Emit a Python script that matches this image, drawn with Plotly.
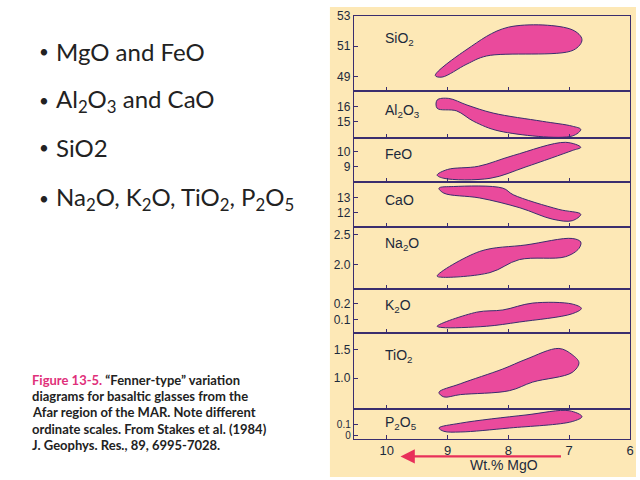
import plotly.graph_objects as go

# ---------------- data ----------------
oxides = ["SiO2", "Al2O3", "FeO", "CaO", "Na2O", "K2O", "TiO2", "P2O5"]
oxide_labels = ["SiO<sub>2</sub>", "Al<sub>2</sub>O<sub>3</sub>", "FeO", "CaO",
                "Na<sub>2</sub>O", "K<sub>2</sub>O", "TiO<sub>2</sub>", "P<sub>2</sub>O<sub>5</sub>"]

# field outlines (Wt.% MgO, Wt.% oxide)
sio2_mgo = [9.20, 8.68, 8.00, 6.95, 6.79, 6.93, 8.36, 8.68, 9.09, 9.20]
sio2_val = [49.06, 50.79, 52.25, 52.08, 51.43, 50.74, 50.35, 49.82, 48.96, 49.06]

al2o3_mgo = [9.17, 8.98, 8.68, 8.25, 7.44, 6.95, 6.81, 6.95, 8.14, 8.57, 8.85, 9.17, 9.17]
al2o3_val = [16.47, 16.58, 16.13, 15.58, 15.02, 14.69, 14.47, 14.02, 14.35, 15.02, 15.73, 15.91, 16.47]

feo_mgo = [9.17, 9.00, 8.49, 7.92, 7.06, 6.81, 6.95, 7.71, 8.30, 9.06, 9.17]
feo_val = [8.42, 8.80, 9.02, 9.75, 10.65, 10.31, 10.09, 8.98, 8.20, 8.20, 8.42]

cao_mgo = [9.14, 8.90, 8.09, 7.92, 7.17, 6.81, 6.95, 7.27, 7.81, 8.47, 9.06, 9.14]
cao_val = [13.67, 13.78, 13.67, 13.22, 12.22, 11.89, 11.45, 11.55, 12.33, 13.00, 13.33, 13.67]

na2o_mgo = [9.17, 8.47, 7.71, 6.95, 6.81, 6.84, 7.06, 7.82, 8.30, 9.09, 9.17]
na2o_val = [1.80, 2.22, 2.33, 2.44, 2.38, 2.27, 2.13, 2.08, 1.86, 1.78, 1.80]

k2o_mgo = [9.17, 8.52, 8.09, 7.60, 6.95, 6.80, 6.95, 7.82, 8.36, 9.09, 9.17]
k2o_val = [0.056, 0.146, 0.160, 0.204, 0.198, 0.170, 0.136, 0.083, 0.056, 0.048, 0.056]

tio2_mgo = [9.14, 8.79, 8.09, 7.71, 7.17, 6.95, 6.84, 6.95, 7.60, 7.98, 8.79, 9.06, 9.14]
tio2_val = [0.75, 0.90, 1.16, 1.33, 1.52, 1.41, 1.27, 1.10, 0.93, 0.78, 0.71, 0.67, 0.75]

p2o5_mgo = [9.14, 8.79, 7.71, 7.00, 6.79, 6.95, 7.98, 8.79, 9.06, 9.14]
p2o5_val = [0.067, 0.108, 0.178, 0.214, 0.164, 0.122, 0.067, 0.033, 0.039, 0.067]

fields_mgo = [sio2_mgo, al2o3_mgo, feo_mgo, cao_mgo, na2o_mgo, k2o_mgo, tio2_mgo, p2o5_mgo]
fields_val = [sio2_val, al2o3_val, feo_val, cao_val, na2o_val, k2o_val, tio2_val, p2o5_val]

y_ranges = [[48.03, 53.0], [13.87, 17.07], [7.93, 10.93], [11.0, 14.07],
            [1.58, 2.63], [0.0125, 0.294], [0.45, 1.79], [-0.025, 0.225]]
y_tickvals = [[49, 51, 53], [15, 16], [9, 10], [12, 13], [2.0, 2.5], [0.1, 0.2], [1.0, 1.5], [0, 0.1]]
y_ticktext = [["49", "51", "53"], ["15", "16"], ["9", "10"], ["12", "13"],
              ["2.0", "2.5"], ["0.1", "0.2"], ["1.0", "1.5"], ["0", "0.1"]]
x_tickvals = [10, 9, 8, 7, 6]
x_ticktext = ["10", "9", "8", "7", "6"]

bullets = ["MgO and FeO", "Al<sub>2</sub>O<sub>3</sub> and CaO", "SiO2",
           "Na<sub>2</sub>O, K<sub>2</sub>O, TiO<sub>2</sub>, P<sub>2</sub>O<sub>5</sub>"]
caption = ["<span style='color:#e0307a'>Figure 13-5.</span> \u201cFenner-type\u201d variation",
           "diagrams for basaltic glasses from the",
           "Afar region of the MAR. Note different",
           "ordinate scales. From Stakes et al. (1984)",
           "J. Geophys. Res., 89, 6995-7028."]

# ---------------- layout helpers ----------------
W, H = 640, 480
TEAL = "#168ea0"
PINK = "#ea4a9c"
EDGE = "#3a2d6e"
DARK = "#1c2a3c"
CREAM = "#fde8b6"

panel_px = [9, 86, 134, 179, 225, 288, 333, 411, 441]
x_dom = [356 / W, 634 / W]

fig = go.Figure()
layout = dict(width=W, height=H, margin=dict(l=0, r=0, t=0, b=0),
              paper_bgcolor="white", plot_bgcolor=TEAL, showlegend=False)

for i in range(8):
    n = i + 1
    xs = "x" if n == 1 else f"x{n}"
    ys = "y" if n == 1 else f"y{n}"
    fig.add_trace(go.Scatter(x=fields_mgo[i], y=fields_val[i], xaxis=xs, yaxis=ys,
                             mode="lines", fill="toself", fillcolor=PINK,
                             line=dict(color=EDGE, width=1, shape="spline", smoothing=1.0),
                             hoverinfo="skip"))
    top, bot = panel_px[i], panel_px[i + 1]
    xa = dict(domain=x_dom, range=[10.54, 6.0], anchor=ys, showline=True, mirror=True,
              linecolor=EDGE, linewidth=1, ticks="inside", ticklen=4, tickcolor=EDGE,
              tickvals=x_tickvals, showgrid=False, zeroline=False,
              showticklabels=(n == 8), tickfont=dict(family="Arial", size=13, color=DARK))
    if n == 8:
        xa["ticktext"] = x_ticktext
    ya = dict(domain=[1 - bot / H, 1 - top / H], range=y_ranges[i], anchor=xs,
              showline=True, mirror=True, linecolor=EDGE, linewidth=1, ticks="inside",
              ticklen=4, tickcolor=EDGE, tickvals=y_tickvals[i], ticktext=y_ticktext[i],
              showgrid=False, zeroline=False,
              tickfont=dict(family="Arial", size=(10 if n == 8 else 12), color=DARK))
    layout["xaxis" if n == 1 else f"xaxis{n}"] = xa
    layout["yaxis" if n == 1 else f"yaxis{n}"] = ya

fig.update_layout(**layout)

# cream background panel behind the figure
fig.add_shape(type="rect", xref="paper", yref="paper", x0=332 / W, x1=1, y0=0, y1=1,
              fillcolor=CREAM, line=dict(width=0), layer="below")

ann = []
# oxide labels inside panels
label_px = [(385, 33), (385, 106), (385, 150), (385, 197), (385, 242), (385, 305), (385, 356), (385, 425)]
for (lx, ly), t in zip(label_px, oxide_labels):
    ann.append(dict(x=lx / W, y=1 - ly / H, xref="paper", yref="paper", text=t,
                    showarrow=False, xanchor="left", yanchor="middle",
                    font=dict(family="Arial", size=14, color=DARK)))

# x axis title
ann.append(dict(x=507 / W, y=1 - 468 / H, xref="paper", yref="paper", text="Wt.% MgO",
                showarrow=False, xanchor="center", yanchor="middle",
                font=dict(family="Arial", size=14, color=DARK)))
# arrow
ann.append(dict(x=403 / W, y=1 - 459 / H, xref="paper", yref="paper", text="",
                showarrow=True, ax=162, ay=0, arrowhead=2, arrowsize=1.3,
                arrowwidth=2.2, arrowcolor="#e8305a"))

# bullets
bullet_y = [45, 95, 143, 196]
for by, t in zip(bullet_y, bullets):
    ann.append(dict(x=37 / W, y=1 - by / H, xref="paper", yref="paper", text="\u2022",
                    showarrow=False, xanchor="left", yanchor="middle",
                    font=dict(family="Lato", size=17, color="#222222")))
    ann.append(dict(x=54 / W, y=1 - by / H, xref="paper", yref="paper", text=t,
                    showarrow=False, xanchor="left", yanchor="middle",
                    font=dict(family="Lato", size=24, color="#222222")))

cap_y = [381, 397, 414, 431, 447]
for cy, t in zip(cap_y, caption):
    ann.append(dict(x=30 / W, y=1 - cy / H, xref="paper", yref="paper", text=t,
                    showarrow=False, xanchor="left", yanchor="middle",
                    font=dict(family="Lato", size=13, color="#222222", weight="bold")))

fig.update_layout(annotations=ann)
fig.write_html("out.html")
